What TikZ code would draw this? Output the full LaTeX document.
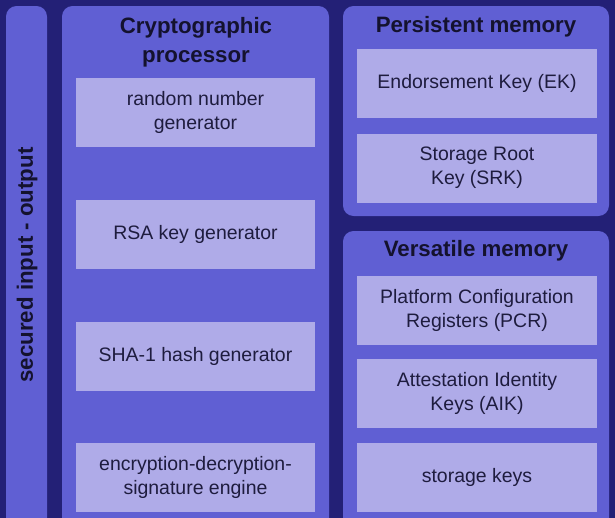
\documentclass[tikz,border=0pt]{standalone}
\usepackage{fontspec}
\setmainfont{Liberation Sans}
\definecolor{bgnavy}{RGB}{35,32,118}
\definecolor{panelblue}{RGB}{96,95,211}
\definecolor{boxlilac}{RGB}{175,171,232}
\definecolor{txtdark}{RGB}{30,28,62}
\definecolor{titledark}{RGB}{20,18,46}
\tikzset{
  panel/.style={fill=panelblue, draw=none, rounded corners=7.9pt},
  itembox/.style={rectangle, fill=boxlilac, draw=none, text=txtdark, align=center,
    font=\fontsize{14.6}{18}\selectfont, inner sep=0pt},
  crybox/.style={itembox, minimum width=179.25pt, minimum height=51.75pt},
  membox/.style={itembox, minimum width=180pt, minimum height=51.75pt},
  ptitle/.style={text=titledark, align=center, font=\fontsize{16.7}{21.5}\selectfont\bfseries, inner sep=0pt}
}
\begin{document}
\begin{tikzpicture}[x=0.75pt,y=-0.75pt]
\useasboundingbox (0,0) rectangle (615,518);
\clip (0,0) rectangle (615,518);
\fill[bgnavy] (0,0) rectangle (615,518);
% panels
\fill[panel] (6,6) rectangle (47,540);
\fill[panel] (62,6) rectangle (329,540);
\fill[panel] (343,6) rectangle (609,216);
\fill[panel] (343,231) rectangle (609,540);
% vertical label
\node[ptitle, rotate=90] (io) at (27,265) {secured input - output};
% cryptographic processor
\node[ptitle] (crt) at (196,42) {Cryptographic\\processor};
\node[crybox] (rng) at (195.5,112.5) {random number\\generator};
\node[crybox] (rsa) at (195.5,234) {RSA key generator};
\node[crybox] (sha) at (195.5,356) {SHA-1 hash generator};
\node[crybox] (enc) at (195.5,477.5) {encryption-decryption-\\signature engine};
% persistent memory
\node[ptitle] (pmt) at (476,27) {Persistent memory};
\node[membox] (ek) at (477,83.5) {Endorsement Key (EK)};
\node[membox] (srk) at (477,168) {Storage Root\\Key (SRK)};
% versatile memory
\node[ptitle] (vmt) at (476,251) {Versatile memory};
\node[membox] (pcr) at (477,310) {Platform Configuration\\Registers (PCR)};
\node[membox] (aik) at (477,393.5) {Attestation Identity\\Keys (AIK)};
\node[membox] (stk) at (477,477.5) {storage keys};
\end{tikzpicture}
\end{document}
